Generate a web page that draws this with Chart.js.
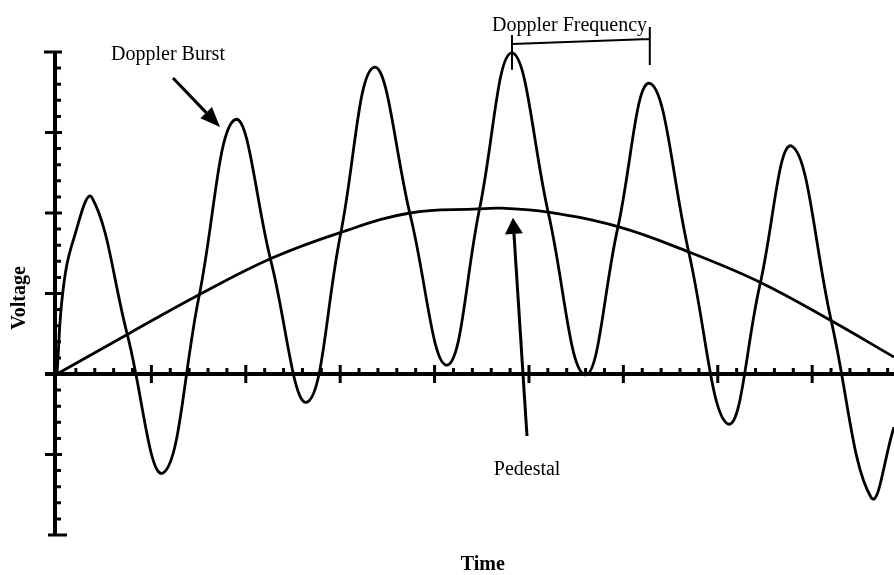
<!DOCTYPE html>
<html>
<head>
<meta charset="utf-8">
<script src="https://cdn.jsdelivr.net/npm/chart.js@4.4.1/dist/chart.umd.min.js"></script>
<style>
  body { margin: 0; background: #fff; }
</style>
</head>
<body>
<canvas id="myChart" width="894" height="575"></canvas>
<script>
// Doppler burst: peaks, troughs and the points where
// the burst crosses the pedestal (time units, voltage units)
const burstTime = [
    0, 0.064, 0.180, 0.371, 0.747, 1.123, 1.504, 1.886, 2.267, 2.648,
    3.003, 3.358, 3.745, 4.131, 4.476, 4.820, 5.207, 5.593, 5.938, 6.282,
    6.695, 7.108, 7.447, 7.786, 8.204, 8.623, 8.867
]
const burstVoltage = [
    0, 1.04, 1.69, 2.19, 0.48, -1.23, 0.96, 3.16, 1.40, -0.35,
    1.73, 3.81, 1.96, 0.11, 2.05, 3.99, 1.99, -0.01, 1.80, 3.61,
    1.50, -0.62, 1.11, 2.83, 0.65, -1.53, -0.66
]

// pedestal (low-frequency part)
const pedestalTime = [0, 0.773, 1.515, 2.278, 3.008, 3.739, 4.460, 4.693, 5.201, 5.943, 6.684, 7.447, 8.189, 8.867]
const pedestalVoltage = [0, 0.51, 0.99, 1.44, 1.76, 2.00, 2.05, 2.06, 2.01, 1.83, 1.52, 1.14, 0.67, 0.21]

// axis ticks
const xMajorTicks = [1, 2, 3, 4, 5, 6, 7, 8]
const yMajorTicks = [-1, 1, 2, 3]
const minorStep = 0.2

const toPoints = (xs, ys) => xs.map((x, i) => ({ x: x, y: ys[i] }))

const SERIF = '"Liberation Serif", "DejaVu Serif", serif'

const axesPlugin = {
    id: 'axesPlugin',
    beforeDatasetsDraw(chart) {
        const ctx = chart.ctx
        const xs = chart.scales.x, ys = chart.scales.y
        const px = v => xs.getPixelForValue(v)
        const py = v => ys.getPixelForValue(v)
        const x0 = px(0), y0 = py(0)
        ctx.save()
        ctx.strokeStyle = '#000'
        ctx.lineCap = 'butt'

        // y axis
        ctx.lineWidth = 4
        ctx.beginPath()
        ctx.moveTo(x0 - 2, py(ys.max))
        ctx.lineTo(x0 - 2, py(ys.min))
        ctx.stroke()
        // end caps
        ctx.lineWidth = 3
        ctx.beginPath()
        ctx.moveTo(x0 - 13, py(ys.max)); ctx.lineTo(x0 + 5, py(ys.max))
        ctx.moveTo(x0 - 9, py(ys.min)); ctx.lineTo(x0 + 10, py(ys.min))
        ctx.stroke()
        // major y ticks
        ctx.beginPath()
        yMajorTicks.forEach(v => {
            ctx.moveTo(x0 - 12, py(v)); ctx.lineTo(x0 + 5, py(v))
        })
        ctx.stroke()
        // minor y ticks
        ctx.lineWidth = 3
        ctx.beginPath()
        for (let i = Math.round(ys.min / minorStep); i <= Math.round(ys.max / minorStep); i++) {
            if (i % 5 === 0) continue
            const v = i * minorStep
            ctx.moveTo(x0, py(v)); ctx.lineTo(x0 + 4, py(v))
        }
        ctx.stroke()

        // x axis
        ctx.lineWidth = 4
        ctx.beginPath()
        ctx.moveTo(x0 - 12, y0)
        ctx.lineTo(px(xs.max), y0)
        ctx.stroke()
        // major x ticks
        ctx.lineWidth = 3
        ctx.beginPath()
        xMajorTicks.forEach(v => {
            ctx.moveTo(px(v), y0 - 9); ctx.lineTo(px(v), y0 + 9)
        })
        ctx.stroke()
        // minor x ticks
        ctx.beginPath()
        for (let i = 1; i * minorStep <= xs.max; i++) {
            if (i % 5 === 0) continue
            const v = i * minorStep
            ctx.moveTo(px(v), y0 - 6); ctx.lineTo(px(v), y0)
        }
        ctx.stroke()
        ctx.restore()
    },
    afterDraw(chart) {
        const ctx = chart.ctx
        const xs = chart.scales.x, ys = chart.scales.y
        const px = v => xs.getPixelForValue(v)
        const py = v => ys.getPixelForValue(v)

        const arrow = (x1, y1, x2, y2, head, half) => {
            const a = Math.atan2(y2 - y1, x2 - x1)
            const bx = x2 - head * Math.cos(a), by = y2 - head * Math.sin(a)
            ctx.lineWidth = 3
            ctx.beginPath()
            ctx.moveTo(x1, y1); ctx.lineTo(bx, by)
            ctx.stroke()
            ctx.beginPath()
            ctx.moveTo(x2, y2)
            ctx.lineTo(bx + half * Math.sin(a), by - half * Math.cos(a))
            ctx.lineTo(bx - half * Math.sin(a), by + half * Math.cos(a))
            ctx.closePath()
            ctx.fill()
        }

        ctx.save()
        ctx.fillStyle = '#000'
        ctx.strokeStyle = '#000'
        ctx.textAlign = 'center'
        ctx.textBaseline = 'middle'

        ctx.font = '20px ' + SERIF
        ctx.fillText('Doppler Burst', px(1.176), py(3.96))
        arrow(px(1.229), py(3.677), px(1.727), py(3.068), 20, 8)

        ctx.fillText('Doppler Frequency', px(5.43), py(4.33))
        ctx.lineWidth = 2
        ctx.beginPath()
        ctx.moveTo(px(4.82), py(4.21)); ctx.lineTo(px(4.82), py(3.78))
        ctx.moveTo(px(4.82), py(4.10)); ctx.lineTo(px(6.28), py(4.16))
        ctx.moveTo(px(6.28), py(4.31)); ctx.lineTo(px(6.28), py(3.84))
        ctx.stroke()

        ctx.fillText('Pedestal', px(4.98), py(-1.19))
        arrow(px(4.979), py(-0.77), px(4.83), py(1.94), 16, 9)

        ctx.font = 'bold 20px ' + SERIF
        ctx.fillText('Time', px(4.51), py(-2.37))
        ctx.translate(px(-0.39), py(0.944))
        ctx.rotate(-Math.PI / 2)
        ctx.fillText('Voltage', 0, 0)
        ctx.restore()
    }
}

new Chart('myChart', {
    type: 'line',
    data: {
        datasets: [{
            label: 'Doppler Burst',
            data: toPoints(burstTime, burstVoltage),
            borderColor: '#000',
            borderWidth: 2.8,
            pointRadius: 0,
            tension: 0.42,
            clip: false,
        },
        {
            label: 'Pedestal',
            data: toPoints(pedestalTime, pedestalVoltage),
            borderColor: '#000',
            borderWidth: 2.8,
            pointRadius: 0,
            tension: 0.4,
            clip: false,
        },
        ],
    },
    options: {
        responsive: false,
        animation: false,
        devicePixelRatio: 1,
        layout: {
            padding: { left: 57, right: 0, top: 52, bottom: 40 }
        },
        plugins: {
            legend: { display: false },
            tooltip: { enabled: false },
        },
        scales: {
            x: { type: 'linear', min: 0, max: 8.867, display: false },
            y: { type: 'linear', min: -2, max: 4, display: false },
        }
    },
    plugins: [axesPlugin]
});
</script>
</body>
</html>
